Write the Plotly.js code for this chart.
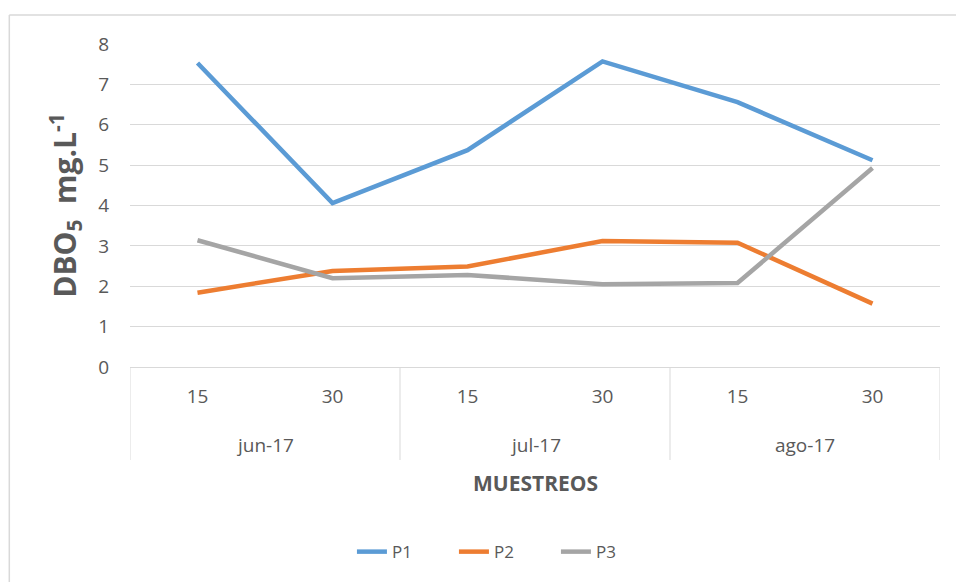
<!DOCTYPE html>
<html>
<head>
<meta charset="utf-8">
<script src="https://cdn.plot.ly/plotly-3.0.1.min.js"></script>
<style>
html,body{margin:0;padding:0;background:#fff;}
#chart{width:956px;height:582px;}
</style>
</head>
<body>
<div id="chart"></div>
<script>
const months = ["jun-17","jun-17","jul-17","jul-17","ago-17","ago-17"];
const days = ["15","30","15","30","15","30"];
const P1 = [7.53, 4.06, 5.37, 7.57, 6.56, 5.12];
const P2 = [1.84, 2.38, 2.49, 3.12, 3.08, 1.57];
const P3 = [3.14, 2.2, 2.28, 2.05, 2.08, 4.93];
const seriesNames = ["P1","P2","P3"];
const colors = ["#5B9BD5","#ED7D31","#A5A5A5"];

const FONT = "Open Sans, sans-serif";
const TXT = "#595959";
const GRID = "#D9D9D9";

// combined category keys (one per sample)
const cats = months.map((m,i)=> m + " " + days[i]);
// unique months and their index spans
const monthList = [];
months.forEach((m,i)=>{
  const last = monthList[monthList.length-1];
  if(!last || last.name!==m) monthList.push({name:m, start:i, end:i});
  else last.end = i;
});

const data = [P1,P2,P3].map((v,i)=>({
  type:"scatter", mode:"lines", name:seriesNames[i],
  x:cats, y:v,
  line:{color:colors[i], width:4.5}
}));

const Y_MONTH = -0.241, Y_DIV = -0.288, Y_TITLE = -0.359;

const annotations = monthList.map(g=>({
  xref:"x", yref:"paper", x:(g.start+g.end)/2, y:Y_MONTH,
  text:g.name, showarrow:false, xanchor:"center", yanchor:"middle",
  font:{family:FONT, size:19, color:TXT}
}));
annotations.push({
  xref:"paper", yref:"paper", x:0.5, y:Y_TITLE, text:"<b>MUESTREOS</b>",
  showarrow:false, xanchor:"center", yanchor:"middle",
  font:{family:FONT, size:21, color:TXT}
});

const shapes = [];
const bounds = [monthList[0].start-0.5].concat(monthList.map(g=>g.end+0.5));
bounds.forEach(b=>shapes.push({
  type:"line", xref:"x", yref:"paper", x0:b, x1:b, y0:0, y1:Y_DIV,
  line:{color:GRID, width:1}
}));
// chart area border (left and top)
shapes.push({type:"line", xref:"paper", yref:"paper", x0:-0.149, x1:1.03, y0:1.090, y1:1.090, line:{color:GRID, width:1.5}});
shapes.push({type:"line", xref:"paper", yref:"paper", x0:-0.149, x1:-0.149, y0:1.090, y1:-0.7, line:{color:GRID, width:1.5}});

const layout = {
  width:956, height:582,
  margin:{l:130, r:16, t:44, b:215},
  paper_bgcolor:"#fff", plot_bgcolor:"#fff",
  font:{family:FONT, color:TXT, size:16},
  showlegend:true,
  legend:{orientation:"h", x:0.274, xanchor:"left", y:-0.573, yanchor:"middle",
          entrywidth:57, entrywidthmode:"pixels",
          font:{family:FONT, size:17, color:TXT}},
  xaxis:{
    type:"category", range:[-0.5, cats.length-0.5],
    tickvals:cats, ticktext:days,
    showgrid:false, zeroline:false,
    showline:true, linecolor:GRID, linewidth:1,
    ticks:"", ticklabelstandoff:12,
    tickfont:{family:FONT, size:19, color:TXT},
    automargin:false
  },
  yaxis:{
    range:[0,8], dtick:1, tick0:0,
    showgrid:true, gridcolor:GRID, gridwidth:1,
    zeroline:false, showline:false, ticks:"",
    ticklabelstandoff:20,
    tickfont:{family:FONT, size:19, color:TXT},
    title:{text:"<b>DBO<sub>5</sub>  mg.L<sup>-1</sup></b>", font:{family:FONT, size:30, color:TXT}, standoff:12},
    automargin:false
  },
  annotations:annotations,
  shapes:shapes
};

Plotly.newPlot("chart", data, layout, {displayModeBar:false, staticPlot:true});
</script>
</body>
</html>
